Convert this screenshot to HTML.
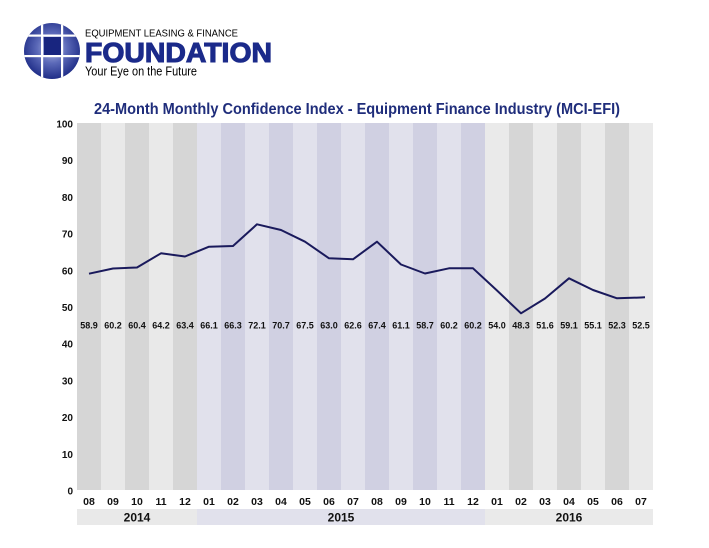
<!DOCTYPE html>
<html><head><meta charset="utf-8"><style>
html,body{margin:0;padding:0;background:#fff;}
svg{display:block;}
text{font-family:"Liberation Sans",sans-serif;}
</style></head><body>
<svg width="709" height="548" viewBox="0 0 709 548" xmlns="http://www.w3.org/2000/svg">
<defs>
<radialGradient id="g" cx="0.5" cy="0.45" r="0.6">
<stop offset="0" stop-color="#b3bce4"/>
<stop offset="0.45" stop-color="#5b69b8"/>
<stop offset="1" stop-color="#15237f"/>
</radialGradient>
<clipPath id="c"><circle cx="52" cy="51" r="28"/></clipPath>
</defs>
<!-- Logo -->
<circle cx="52" cy="51" r="28" fill="url(#g)"/>
<g clip-path="url(#c)">
<rect x="44" y="37" width="17" height="18" fill="#18257f"/>
<rect x="41" y="20" width="2.2" height="62" fill="#fff"/>
<rect x="61" y="20" width="2.2" height="62" fill="#fff"/>
<rect x="20" y="34.5" width="64" height="2.2" fill="#fff"/>
<rect x="20" y="55" width="64" height="2.2" fill="#fff"/>
</g>
<text x="85" y="36.5" font-size="10" fill="#000" textLength="153" lengthAdjust="spacingAndGlyphs">EQUIPMENT LEASING &amp; FINANCE</text>
<text x="85" y="62" font-size="28" font-weight="bold" fill="#1b2a8a" stroke="#1b2a8a" stroke-width="1.1" textLength="187" lengthAdjust="spacingAndGlyphs">FOUNDATION</text>
<text x="85" y="75.5" font-size="13" fill="#000" textLength="112" lengthAdjust="spacingAndGlyphs">Your Eye on the Future</text>
<!-- Title -->
<text x="94" y="114" font-size="15.5" font-weight="bold" fill="#1f2d7b" textLength="526" lengthAdjust="spacingAndGlyphs">24-Month Monthly Confidence Index - Equipment Finance Industry (MCI-EFI)</text>
<!-- Columns -->
<g>
<rect x="77" y="123" width="24" height="367" fill="#d6d6d6"/>
<rect x="101" y="123" width="24" height="367" fill="#e9e9e9"/>
<rect x="125" y="123" width="24" height="367" fill="#d6d6d6"/>
<rect x="149" y="123" width="24" height="367" fill="#e9e9e9"/>
<rect x="173" y="123" width="24" height="367" fill="#d6d6d6"/>
<rect x="197" y="123" width="24" height="367" fill="#e1e1ec"/>
<rect x="221" y="123" width="24" height="367" fill="#d0d0e2"/>
<rect x="245" y="123" width="24" height="367" fill="#e1e1ec"/>
<rect x="269" y="123" width="24" height="367" fill="#d0d0e2"/>
<rect x="293" y="123" width="24" height="367" fill="#e1e1ec"/>
<rect x="317" y="123" width="24" height="367" fill="#d0d0e2"/>
<rect x="341" y="123" width="24" height="367" fill="#e1e1ec"/>
<rect x="365" y="123" width="24" height="367" fill="#d0d0e2"/>
<rect x="389" y="123" width="24" height="367" fill="#e1e1ec"/>
<rect x="413" y="123" width="24" height="367" fill="#d0d0e2"/>
<rect x="437" y="123" width="24" height="367" fill="#e1e1ec"/>
<rect x="461" y="123" width="24" height="367" fill="#d0d0e2"/>
<rect x="485" y="123" width="24" height="367" fill="#eaeaea"/>
<rect x="509" y="123" width="24" height="367" fill="#d6d6d6"/>
<rect x="533" y="123" width="24" height="367" fill="#eaeaea"/>
<rect x="557" y="123" width="24" height="367" fill="#d6d6d6"/>
<rect x="581" y="123" width="24" height="367" fill="#eaeaea"/>
<rect x="605" y="123" width="24" height="367" fill="#d6d6d6"/>
<rect x="629" y="123" width="24" height="367" fill="#eaeaea"/>
</g>
<!-- Year band -->
<rect x="77" y="509" width="120" height="16" fill="#e9e9e9"/>
<rect x="197" y="509" width="288" height="16" fill="#e1e1ec"/>
<rect x="485" y="509" width="168" height="16" fill="#eaeaea"/>
<g font-size="12" font-weight="bold" fill="#111" text-anchor="middle">
<text x="137" y="521.5">2014</text>
<text x="341" y="521.5">2015</text>
<text x="569" y="521.5">2016</text>
</g>
<!-- Y labels -->
<g font-size="10" font-weight="bold" fill="#111" text-anchor="end">
<text x="73" y="127.5">100</text>
<text x="73" y="164.2">90</text>
<text x="73" y="200.9">80</text>
<text x="73" y="237.6">70</text>
<text x="73" y="274.3">60</text>
<text x="73" y="311">50</text>
<text x="73" y="347.7">40</text>
<text x="73" y="384.4">30</text>
<text x="73" y="421.1">20</text>
<text x="73" y="457.8">10</text>
<text x="73" y="494.5">0</text>
</g>
<!-- Month labels -->
<g font-size="10.5" font-weight="bold" fill="#111" text-anchor="middle">
<text x="89" y="505">08</text><text x="113" y="505">09</text><text x="137" y="505">10</text><text x="161" y="505">11</text><text x="185" y="505">12</text>
<text x="209" y="505">01</text><text x="233" y="505">02</text><text x="257" y="505">03</text><text x="281" y="505">04</text><text x="305" y="505">05</text><text x="329" y="505">06</text><text x="353" y="505">07</text><text x="377" y="505">08</text><text x="401" y="505">09</text><text x="425" y="505">10</text><text x="449" y="505">11</text><text x="473" y="505">12</text>
<text x="497" y="505">01</text><text x="521" y="505">02</text><text x="545" y="505">03</text><text x="569" y="505">04</text><text x="593" y="505">05</text><text x="617" y="505">06</text><text x="641" y="505">07</text>
</g>
<!-- Value labels -->
<g font-size="9" font-weight="bold" fill="#111" text-anchor="middle">
<text x="89" y="328.5">58.9</text><text x="113" y="328.5">60.2</text><text x="137" y="328.5">60.4</text><text x="161" y="328.5">64.2</text><text x="185" y="328.5">63.4</text>
<text x="209" y="328.5">66.1</text><text x="233" y="328.5">66.3</text><text x="257" y="328.5">72.1</text><text x="281" y="328.5">70.7</text><text x="305" y="328.5">67.5</text><text x="329" y="328.5">63.0</text><text x="353" y="328.5">62.6</text><text x="377" y="328.5">67.4</text><text x="401" y="328.5">61.1</text><text x="425" y="328.5">58.7</text><text x="449" y="328.5">60.2</text><text x="473" y="328.5">60.2</text>
<text x="497" y="328.5">54.0</text><text x="521" y="328.5">48.3</text><text x="545" y="328.5">51.6</text><text x="569" y="328.5">59.1</text><text x="593" y="328.5">55.1</text><text x="617" y="328.5">52.3</text><text x="641" y="328.5">52.5</text>
</g>
<!-- Line -->
<polyline fill="none" stroke="#1a1a5c" stroke-width="2" stroke-linejoin="round"
points="89,273.7 113,268.5 137,267.5 161,253.3 185,256.5 209,246.7 233,246 257,224.3 281,230 305,241.7 329,258.3 353,259.3 377,241.7 401,264.5 425,273.5 449,268.3 473,268.3 497,290.5 521,313.3 545,298.5 569,278.3 593,290 617,298.3 641,297.5 645,297.3"/>
</svg>
</body></html>
